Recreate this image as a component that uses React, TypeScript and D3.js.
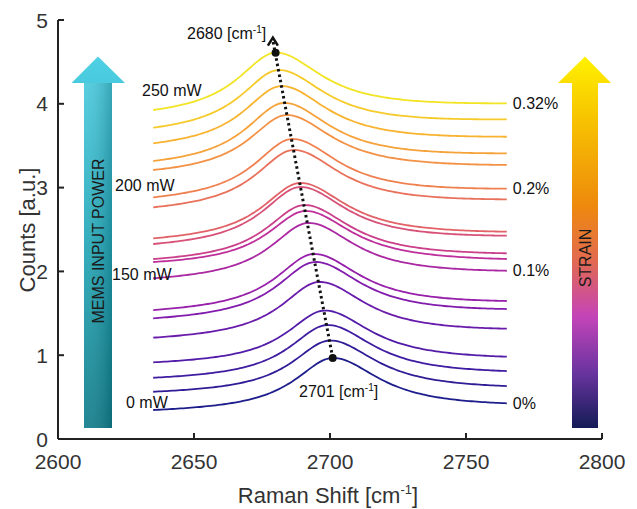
import React from 'react'
import * as d3 from 'd3'

// peak centre, values at the left end (2635), at the peak and at the right end (2765), bottom to top
const peakPos = [2701, 2700, 2699, 2698, 2696, 2694.5, 2694, 2692, 2691, 2690.5, 2689, 2689, 2686.5, 2686, 2684, 2683, 2682, 2681, 2680]
const leftVal = [0.346, 0.564, 0.731, 0.915, 1.209, 1.44, 1.539, 1.918, 2.112, 2.148, 2.327, 2.395, 2.765, 2.884, 3.21, 3.317, 3.529, 3.715, 3.926]
const peakVal = [0.967, 1.175, 1.36, 1.533, 1.874, 2.112, 2.208, 2.578, 2.721, 2.792, 3.007, 3.055, 3.449, 3.58, 3.866, 4.01, 4.212, 4.403, 4.61]
const rightVal = [0.426, 0.632, 0.811, 0.982, 1.316, 1.551, 1.647, 2.008, 2.148, 2.216, 2.426, 2.474, 2.86, 2.987, 3.27, 3.409, 3.607, 3.815, 4.006]

const xStart = 2635
const xEnd = 2765
const gammaLeft = 17
const gammaRight = 21

const xTicks = [2600, 2650, 2700, 2750, 2800]
const yTicks = [0, 1, 2, 3, 4, 5]

const strainLabels = [
  { text: '0%', curve: 0 },
  { text: '0.1%', curve: 7 },
  { text: '0.2%', curve: 13 },
  { text: '0.32%', curve: 18 },
]
const powerLabels = ['0 mW', '150 mW', '200 mW', '250 mW']

const x = d3.scaleLinear().domain([2600, 2800]).range([58, 602])
const y = d3.scaleLinear().domain([0, 5]).range([439, 20])

const colour = d3.scaleLinear<string>()
  .domain([0, 0.15, 0.3, 0.45, 0.6, 0.75, 0.9, 1])
  .range(['#1d1d8c', '#4b1ca8', '#8a1cae', '#c0309a', '#e0606a', '#f2884a', '#f8b62e', '#f2e424'])
  .interpolate(d3.interpolateRgb)

const lor = (d: number, g: number) => 1 / (1 + (d / g) * (d / g))

// lorentzian fit with a straight background, pinned to the three read values
function fitCurve(i: number) {
  const c = peakPos[i]
  const LL = lor(xStart - c, gammaLeft)
  const LR = lor(xEnd - c, gammaRight)
  const t = (c - xStart) / (xEnd - xStart)
  const A = (peakVal[i] - (1 - t) * leftVal[i] - t * rightVal[i]) / (1 - (1 - t) * LL - t * LR)
  const b0 = leftVal[i] - A * LL
  const b1 = rightVal[i] - A * LR
  return d3.range(xStart, xEnd + 0.01, 1).map(xv => {
    const g = xv < c ? gammaLeft : gammaRight
    const bg = b0 + (b1 - b0) * (xv - xStart) / (xEnd - xStart)
    return [xv, bg + A * lor(xv - c, g)] as [number, number]
  })
}

const line = d3.line<[number, number]>().x(d => x(d[0])).y(d => y(d[1]))

const font = '"Liberation Sans", Arial, sans-serif'

export default function App() {
  const n = peakPos.length
  const top = n - 1
  const tipX = x(2679)
  const tipY = y(4.79)

  return (
    <svg width={637} height={509} style={{ position: 'absolute', left: 0, top: 0, background: '#fff' }} fontFamily={font}>
      <defs>
        <linearGradient id="mems" gradientUnits="userSpaceOnUse" x1="0" y1="56" x2="0" y2="428">
          <stop offset="0" stopColor="#4fd0e4" />
          <stop offset="0.5" stopColor="#23a7b8" />
          <stop offset="1" stopColor="#0f7c88" />
        </linearGradient>
        <linearGradient id="memsShade" x1="0" y1="0" x2="1" y2="0">
          <stop offset="0" stopColor="#ffffff" stopOpacity="0.08" />
          <stop offset="1" stopColor="#003840" stopOpacity="0.25" />
        </linearGradient>
        <linearGradient id="strain" gradientUnits="userSpaceOnUse" x1="0" y1="56" x2="0" y2="428">
          <stop offset="0" stopColor="#fff200" />
          <stop offset="0.15" stopColor="#f8c800" />
          <stop offset="0.4" stopColor="#ee8a0c" />
          <stop offset="0.55" stopColor="#e26a50" />
          <stop offset="0.7" stopColor="#c444b8" />
          <stop offset="0.85" stopColor="#6a34a0" />
          <stop offset="1" stopColor="#141c56" />
        </linearGradient>
      </defs>

      {/* MEMS input power arrow */}
      <path d="M84,428 L84,83 L71.5,83 L98,56.5 L125,83 L112,83 L112,428 Z" fill="url(#mems)" />
      <rect x={84} y={83} width={28} height={345} fill="url(#memsShade)" />
      <text transform="translate(104,241) rotate(-90)" textAnchor="middle" fontSize={16} fill="#1a1a1a">MEMS INPUT POWER</text>

      {/* strain arrow */}
      <path d="M572,428 L572,83 L558,83 L585,56.5 L611,83 L598,83 L598,428 Z" fill="url(#strain)" />
      <text transform="translate(591,258) rotate(-90)" textAnchor="middle" fontSize={16} fill="#1a1a1a">STRAIN</text>

      {/* spectra */}
      {d3.range(n).map(i => (
        <path key={i} d={line(fitCurve(i)) ?? ''} fill="none" stroke={colour(i / top)} strokeWidth={1.8} />
      ))}

      {/* peak shift guide */}
      <line x1={x(peakPos[0])} y1={y(peakVal[0])} x2={tipX} y2={tipY + 3} stroke="#111" strokeWidth={3} strokeDasharray="2.5 3" />
      <path d={`M${tipX - 5},${tipY + 8} L${tipX},${tipY} L${tipX + 5},${tipY + 8}`} fill="none" stroke="#111" strokeWidth={2.5} />
      <circle cx={x(peakPos[0])} cy={y(peakVal[0])} r={4} fill="#111" />
      <circle cx={x(peakPos[top])} cy={y(peakVal[top])} r={4} fill="#111" />
      <text x={187} y={39} fontSize={16} fill="#111">2680 [cm<tspan fontSize={10} dy={-6}>-1</tspan><tspan dy={6}>]</tspan></text>
      <text x={299} y={397} fontSize={16} fill="#111">2701 [cm<tspan fontSize={10} dy={-6}>-1</tspan><tspan dy={6}>]</tspan></text>

      {/* labels */}
      <text x={142} y={96} fontSize={16} fill="#111">{powerLabels[3]}</text>
      <text x={115} y={191} fontSize={16} fill="#111">{powerLabels[2]}</text>
      <text x={112} y={280} fontSize={16} fill="#111">{powerLabels[1]}</text>
      <text x={126} y={408} fontSize={16} fill="#111">{powerLabels[0]}</text>
      {strainLabels.map(s => (
        <text key={s.text} x={x(xEnd) + 6} y={y(rightVal[s.curve])} dy="0.36em" fontSize={16} fill="#111">{s.text}</text>
      ))}

      {/* axes */}
      <g stroke="#222" strokeWidth={2} fill="none">
        <line x1={x(2600)} y1={y(0)} x2={x(2800)} y2={y(0)} />
        <line x1={x(2600)} y1={y(0)} x2={x(2600)} y2={y(5)} />
        {xTicks.map(t => <line key={t} x1={x(t)} x2={x(t)} y1={y(0)} y2={y(0) - 6} />)}
        {yTicks.map(t => <line key={t} x1={x(2600)} x2={x(2600) + 6} y1={y(t)} y2={y(t)} />)}
      </g>
      {xTicks.map(t => (
        <text key={t} x={x(t)} y={469} textAnchor="middle" fontSize={21} fill="#333">{t}</text>
      ))}
      {yTicks.map(t => (
        <text key={t} x={48} y={y(t)} dy="0.36em" textAnchor="end" fontSize={21} fill="#333">{t}</text>
      ))}
      <text x={328} y={503} textAnchor="middle" fontSize={22} fill="#333">Raman Shift [cm<tspan fontSize={13} dy={-9}>-1</tspan><tspan dy={9}>]</tspan></text>
      <text transform="translate(35,230) rotate(-90)" textAnchor="middle" fontSize={22} fill="#333">Counts [a.u.]</text>
    </svg>
  )
}
